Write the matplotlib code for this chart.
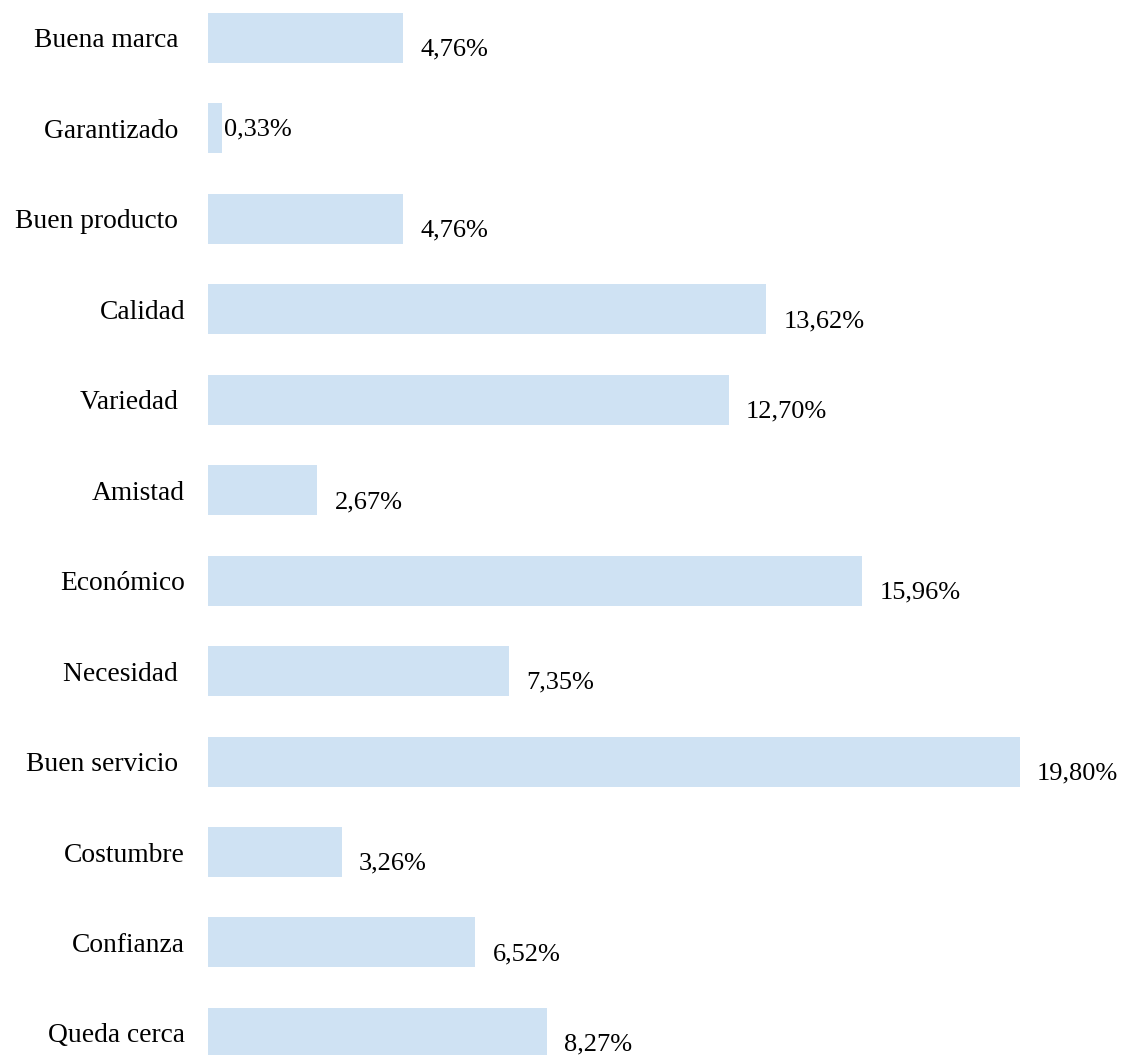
import matplotlib
matplotlib.use("Agg")
import matplotlib.pyplot as plt

# Motivos de compra (porcentaje de respuestas)
categorias = [
    "Buena marca ", "Garantizado ", "Buen producto ", "Calidad", "Variedad ",
    "Amistad", "Económico", "Necesidad ", "Buen servicio ", "Costumbre",
    "Confianza", "Queda cerca",
]
porcentajes = [4.76, 0.33, 4.76, 13.62, 12.70, 2.67, 15.96, 7.35, 19.80, 3.26, 6.52, 8.27]
etiquetas = [f"{v:.2f}".replace(".", ",") + "%" for v in porcentajes]

COLOR_BARRA = "#CFE2F3"
DPI = 100
ANCHO, ALTO = 1122, 1055

plt.rcParams["font.family"] = ["Liberation Serif", "DejaVu Serif"]

fig = plt.figure(figsize=(ANCHO / DPI, ALTO / DPI), dpi=DPI)
# eje ocupa toda la altura; 1 unidad en x ~ 41 px
ax = fig.add_axes([208 / ANCHO, 0, 820 / ANCHO, 1])

pos = list(range(len(categorias)))
ax.barh(pos, porcentajes, height=0.553, color=COLOR_BARRA)
ax.set_xlim(0, 20)
ax.set_ylim(11.244, -0.42)

ax.set_yticks(pos)
ax.set_yticklabels(categorias, fontsize=19.8)
ax.tick_params(axis="y", length=0, pad=16.5)
ax.set_xticks([])
for s in ax.spines.values():
    s.set_visible(False)

for y, v, txt in zip(pos, porcentajes, etiquetas):
    if v < 1:
        # barra muy corta: etiqueta pegada y centrada
        off = (1.5, -1)
    else:
        off = (12.5, -8.5)
    ax.annotate(txt, xy=(v, y), xytext=off, textcoords="offset points",
                ha="left", va="center", fontsize=19, annotation_clip=False)

fig.savefig("out.png", dpi=DPI)
